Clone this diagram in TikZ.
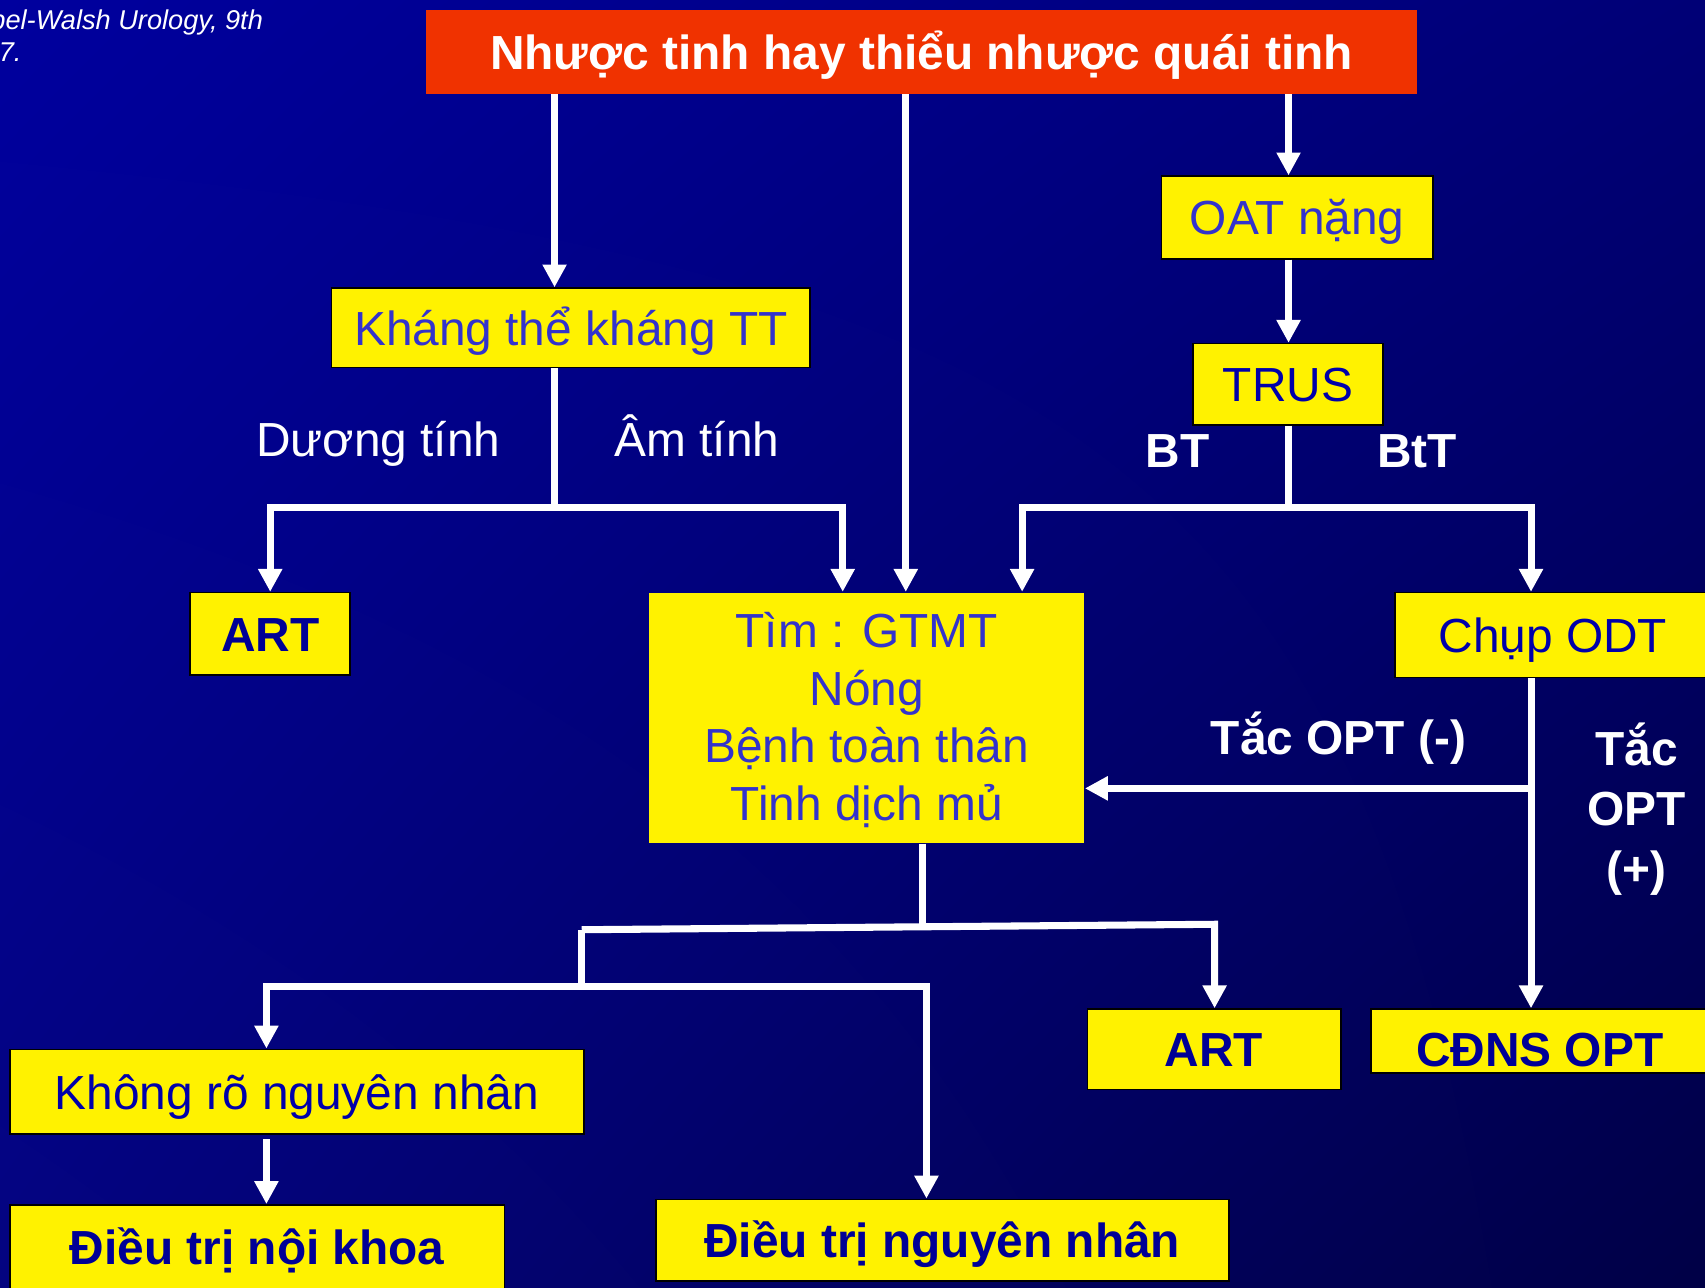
\documentclass[tikz,border=0pt]{standalone}
\usepackage{fontspec}
\setmainfont{Liberation Sans}
\usetikzlibrary{arrows.meta, shadings}

\definecolor{bgUL}{RGB}{0,0,158}
\definecolor{bgUR}{RGB}{0,0,118}
\definecolor{bgLL}{RGB}{4,4,128}
\definecolor{bgLR}{RGB}{0,0,70}
\definecolor{titlered}{RGB}{240,50,0}
\definecolor{lightblue}{RGB}{51,51,204}
\definecolor{darkblue}{RGB}{0,0,170}
\definecolor{boldblue}{RGB}{0,0,150}

\begin{document}
\begin{tikzpicture}[x=1pt, y=-1pt,
   plain/.style={font=\fontsize{44pt}{53pt}\selectfont},
   heavy/.style={font=\fontsize{44pt}{55pt}\selectfont\bfseries},
   card/.style={plain, fill=yellow, draw=black, line width=1.5pt, inner sep=0pt},
   one/.style={card, text height=32pt, text depth=0pt},
   tag/.style={text=white, anchor=base, inner sep=0pt},
   wire/.style={draw=white, line width=6.5pt},
   arr/.style={wire, -{Triangle[length=21pt, width=21pt]}}]

   \useasboundingbox (0,0) rectangle (1568,1184);
   \clip (0,0) rectangle (1568,1184);
   \shade[upper left=bgUL, upper right=bgUR, lower left=bgLL, lower right=bgLR] (0,0) rectangle (1568,1184);

   \node[tag, anchor=base east, font=\fontsize{25pt}{29pt}\selectfont\itshape] (src1) at (242,27.5) {bel-Walsh Urology, 9th};
   \node[tag, anchor=base east, font=\fontsize{25pt}{29pt}\selectfont\itshape] (src2) at (20,57) {2007.};

   \node[one, heavy, draw=none, fill=titlered, text=white, minimum width=911pt, minimum height=77pt] (red) at (847.5,47.5) {Nhược tinh hay thiểu nhược quái tinh};
   \node[one, text=lightblue, minimum width=250pt, minimum height=76pt] (oat) at (1193,200) {OAT nặng};
   \node[one, text=darkblue, minimum width=175pt, minimum height=75pt] (trus) at (1184.5,353.5) {TRUS};
   \node[one, text=lightblue, minimum width=440pt, minimum height=73pt] (kh) at (525,301.5) {Kháng thể kháng TT};
   \node[one, heavy, text=boldblue, minimum width=147pt, minimum height=76pt] (artL) at (248.5,583) {ART};
   \node[card, draw=none, align=center, text=lightblue, text height=189pt, text depth=0pt, minimum width=400pt, minimum height=230pt] (tim) at (797,660) {Tìm : GTMT\\Nóng\\Bệnh toàn thân\\Tinh dịch mủ};
   \node[one, text=darkblue, minimum width=290pt, minimum height=78pt] (chup) at (1428,584) {Chụp ODT};
   \node[one, heavy, text=boldblue, minimum width=233pt, minimum height=74pt] (artR) at (1116.5,965) {ART};
   \node[card, heavy, text=boldblue, text height=46pt, text depth=0pt, minimum width=310pt, minimum height=59pt] (cdns) at (1416,957.5) {CĐNS OPT};
   \node[one, text=darkblue, minimum width=528pt, minimum height=78pt] (kr) at (273,1004) {Không rõ nguyên nhân};
   \node[one, heavy, text=boldblue, minimum width=455pt, minimum height=78pt] (dtnk) at (236.5,1147) {Điều trị nội khoa};
   \node[one, heavy, text=boldblue, minimum width=527pt, minimum height=75pt] (dtnn) at (866.5,1140.5) {Điều trị nguyên nhân};

   \node[tag, plain] (duong) at (348,420) {Dương tính};
   \node[tag, plain] (am) at (641,420) {Âm tính};
   \node[tag, heavy] (bt) at (1083,430) {BT};
   \node[tag, heavy] (btt) at (1303,430) {BtT};
   \node[tag, heavy] (neg) at (1231,694) {Tắc OPT (-)};
   \node[tag, heavy, anchor=center, align=center] (pos) at (1505,744) {Tắc\\OPT\\(+)};

   \coordinate (j-kh) at (510,467);
   \coordinate (j-am) at (775,467);
   \coordinate (j-mid) at (833,0);
   \coordinate (j-trus) at (1185,467);
   \coordinate (j-bt) at (940,467);
   \coordinate (j-btt) at (1408,467);
   \coordinate (j-opt) at (1408,725);
   \coordinate (j-tim) at (848,852);
   \coordinate (j-left) at (535,855);
   \coordinate (j-right) at (1117,850);
   \coordinate (j-low) at (535,907);
   \coordinate (j-kr) at (245,907);
   \coordinate (j-dn) at (852,907);

   \draw[arr] (red.south -| j-kh) -- (kh.north -| j-kh);
   \draw[arr] (red.south -| j-mid) -- (tim.north -| j-mid);
   \draw[arr] (red.south -| j-trus) -- (oat.north -| j-trus);
   \draw[arr] (oat.south -| j-trus) -- (trus.north -| j-trus);

   \draw[wire] (kh.south -| j-kh) -- (j-kh);
   \draw[arr] (j-kh) -| (artL.north);
   \draw[arr] (j-kh) -- (j-am) -- (tim.north -| j-am);

   \draw[wire] (trus.south -| j-trus) -- (j-trus);
   \draw[arr] (j-trus) -- (j-bt) -- (tim.north -| j-bt);
   \draw[arr] (j-trus) -- (j-btt) -- (chup.north -| j-btt);

   \draw[arr] (chup.south -| j-btt) -- (cdns.north -| j-btt);
   \draw[arr] (j-opt) -- (tim.east |- j-opt);

   \draw[wire] (tim.south -| j-tim) -- (j-tim);
   \draw[arr] (j-left) -- (j-right) -- (artR.north -| j-right);
   \draw[wire] (j-left) -- (j-low);
   \draw[arr] (j-low) -- (j-kr) -- (kr.north -| j-kr);
   \draw[arr] (j-low) -- (j-dn) -- (dtnn.north -| j-dn);
   \draw[arr, shorten <=4pt] (kr.south -| j-kr) -- (dtnk.north -| j-kr);
\end{tikzpicture}
\end{document}
